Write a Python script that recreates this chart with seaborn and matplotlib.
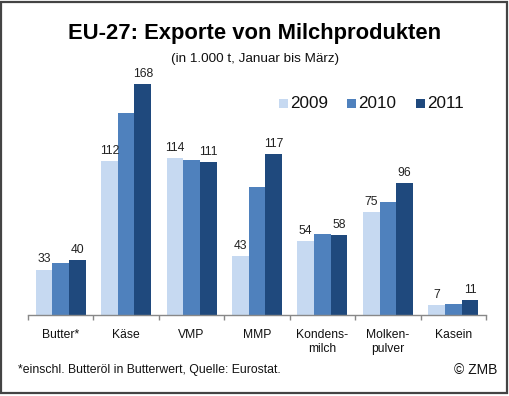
import matplotlib
matplotlib.use("Agg")
import matplotlib.pyplot as plt
import seaborn as sns
import pandas as pd
from matplotlib.patches import Rectangle

categories = ["Butter*", "Käse", "VMP", "MMP", "Kondens-\nmilch", "Molken-\npulver", "Kasein"]
years = ["2009", "2010", "2011"]
v2009 = [33, 112, 114, 43, 54, 75, 7]
v2010 = [38, 147, 113, 93, 59, 82, 8]
v2011 = [40, 168, 111, 117, 58, 96, 11]
colors = ["#C6D9F1", "#4F81BD", "#1F497D"]

df = pd.DataFrame({
    "Kategorie": categories * 3,
    "Jahr": [years[0]] * 7 + [years[1]] * 7 + [years[2]] * 7,
    "Wert": v2009 + v2010 + v2011,
})

sns.set_theme(style="white")
plt.rcParams["font.family"] = ["Liberation Sans", "DejaVu Sans"]

fig = plt.figure(figsize=(5.10, 3.96), dpi=100)
ax = fig.add_axes([28 / 510, 1 - 315 / 396, (486 - 28) / 510, (315 - 67.5) / 396])

sns.barplot(data=df, x="Kategorie", y="Wert", hue="Jahr", palette=colors,
            width=0.765, saturation=1, ax=ax, legend=False, linewidth=0)

ax.set_xlim(-0.5, 6.5)
ax.set_ylim(0, 180)
ax.set_xlabel("")
ax.set_ylabel("")
ax.set_yticks([])
for s in ["top", "right", "left"]:
    ax.spines[s].set_visible(False)
ax.spines["bottom"].set_color("#888888")
ax.spines["bottom"].set_linewidth(1.0)
ax.set_xticks([i + 0.5 for i in range(-1, 7)], minor=True)
ax.tick_params(axis="x", which="minor", length=3.5, color="#888888", width=1.0, direction="out", bottom=True)
ax.tick_params(axis="x", which="major", length=0, labelsize=8.7, labelcolor="#111111", pad=10)

for cont, yr in zip(ax.containers, years):
    if yr in ("2009", "2011"):
        ax.bar_label(cont, fmt="%d", padding=3, fontsize=8.7, color="#222222")

# legend
for i, (yr, c) in enumerate(zip(years, colors)):
    x0 = [279, 347, 416][i]
    fig.patches.append(Rectangle((x0 / 510, 1 - 108 / 396), 9 / 510, 9 / 396,
                                 transform=fig.transFigure, facecolor=c, edgecolor="none"))
    fig.text((x0 + 11) / 510, 1 - 103 / 396, yr, fontsize=12.3, color="#111111",
             ha="left", va="center")

fig.text(0.5, 1 - 34 / 396, "EU-27: Exporte von Milchprodukten", fontsize=15.8,
         fontweight="bold", ha="center", va="center", color="#000000")
fig.text(0.5, 1 - 59 / 396, "(in 1.000 t, Januar bis März)", fontsize=9.7,
         ha="center", va="center", color="#111111")
fig.text(18 / 510, 1 - 370 / 396, "*einschl. Butteröl in Butterwert, Quelle: Eurostat.",
         fontsize=8.8, ha="left", va="center", color="#111111")
fig.text(497 / 510, 1 - 370 / 396, "© ZMB", fontsize=10, ha="right", va="center", color="#111111")

fig.patches.append(Rectangle((1.5 / 510, 1 - 393 / 396), 506 / 510, 391.5 / 396,
                             transform=fig.transFigure, facecolor="none",
                             edgecolor="#444444", linewidth=1.6))

fig.savefig("out.png", dpi=100)
